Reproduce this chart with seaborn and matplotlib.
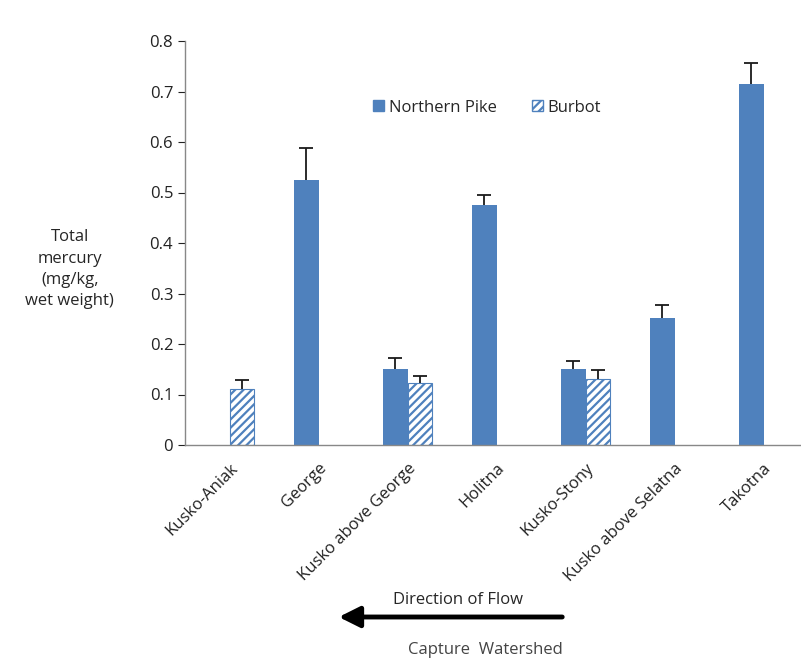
import numpy as np
import pandas as pd
import matplotlib
matplotlib.use("Agg")
import matplotlib.pyplot as plt
import seaborn as sns
from matplotlib.patches import Patch, FancyArrowPatch

# data
watersheds = ["Kusko-Aniak", "George", "Kusko above George", "Holitna",
              "Kusko-Stony", "Kusko above Selatna", "Takotna"]
pike_mean = [np.nan, 0.525, 0.150, 0.475, 0.150, 0.252, 0.715]
pike_err = [np.nan, 0.063, 0.022, 0.020, 0.017, 0.026, 0.042]
burbot_mean = [0.110, np.nan, 0.122, np.nan, 0.130, np.nan, np.nan]
burbot_err = [0.018, np.nan, 0.015, np.nan, 0.018, np.nan, np.nan]
yticks = [0, 0.1, 0.2, 0.3, 0.4, 0.5, 0.6, 0.7, 0.8]

blue = "#4F81BD"
fs = 12

sns.set_style("white")
plt.rcParams['font.family'] = ['Open Sans', 'DejaVu Sans']
plt.rcParams['hatch.linewidth'] = 1.6
plt.rcParams['hatch.color'] = blue

df = pd.DataFrame({
    "Watershed": watersheds * 2,
    "Species": ["Northern Pike"] * 7 + ["Burbot"] * 7,
    "Hg": pike_mean + burbot_mean,
})

fig = plt.figure(figsize=(8.01, 6.6), dpi=100)
ax = fig.add_axes([185 / 801, 1 - 445 / 660, 623 / 801, 404 / 660])

sns.barplot(data=df, x="Watershed", y="Hg", hue="Species", order=watersheds,
            hue_order=["Northern Pike", "Burbot"], palette=[blue, blue],
            width=0.56, dodge=True, gap=0, saturation=1, ax=ax, legend=False)

# style burbot bars hatched
for p in ax.patches:
    cx = p.get_x() + p.get_width() / 2
    idx = int(round(cx))
    if cx > idx and not np.isnan(p.get_height()):
        p.set_facecolor("white")
        p.set_edgecolor(blue)
        p.set_hatch("////")
        p.set_linewidth(0.8)
    else:
        p.set_linewidth(0)

# one-sided error bars (top cap only)
x = np.arange(len(watersheds))
for offset, m, e in [(-0.14, pike_mean, pike_err), (0.14, burbot_mean, burbot_err)]:
    m, e = np.array(m), np.array(e)
    eb = ax.errorbar(x + offset, m, yerr=[np.zeros_like(e), e], fmt="none",
                     ecolor="#1a1a1a", elinewidth=1.3, capsize=5, capthick=1.3)
    eb[1][0].set_visible(False)

ax.set_xlim(-0.5, len(watersheds) - 0.5)
ax.set_ylim(0, 0.8)
ax.set_yticks(yticks)
ax.set_yticklabels(["0"] + [f"{v:.1f}" for v in yticks[1:]], fontsize=fs)
ax.set_xticks(x)
ax.set_xticklabels(watersheds, rotation=45, ha="right", rotation_mode="anchor",
                   fontsize=fs)
ax.set_xticks(np.arange(-0.5, len(watersheds), 1), minor=True)
ax.tick_params(axis="x", which="major", length=0, pad=11)
ax.tick_params(axis="x", which="minor", length=5, color="#888888", direction="out")
ax.tick_params(axis="y", length=5, color="#888888", direction="out", left=True)
ax.tick_params(colors="#222222", which="major")

sns.despine(ax=ax)
for s in ["left", "bottom"]:
    ax.spines[s].set_color("#888888")
    ax.spines[s].set_linewidth(1)

ax.set_xlabel("")
ax.set_ylabel("Total\nmercury\n(mg/kg,\nwet weight)", rotation=0, fontsize=fs,
              ha="center", va="center", labelpad=0, linespacing=1.45)
ax.yaxis.set_label_coords(-0.185, 0.435)

handles = [Patch(facecolor=blue, edgecolor=blue, label="Northern Pike"),
           Patch(facecolor="white", edgecolor=blue, hatch="////", label="Burbot")]
ax.legend(handles=handles, loc="center", bbox_to_anchor=(0.485, 0.835), ncol=2,
          frameon=False, fontsize=fs, handlelength=0.65, handleheight=0.65,
          handletextpad=0.3, columnspacing=2.1)

# flow arrow and caption
fig.text(458 / 801, 1 - 600 / 660, "Direction of Flow", fontsize=fs,
         ha="center", va="center")
fig.add_artist(FancyArrowPatch(
    (565 / 801, 1 - 617 / 660), (336 / 801, 1 - 617 / 660),
    transform=fig.transFigure, arrowstyle="-|>,head_length=0.9,head_width=0.45",
    mutation_scale=14, linewidth=3.5, color="black"))
fig.text(485 / 801, 1 - 650 / 660, "Capture  Watershed", fontsize=fs,
         ha="center", va="center", color="#444444")

fig.savefig("out.png", dpi=100)
